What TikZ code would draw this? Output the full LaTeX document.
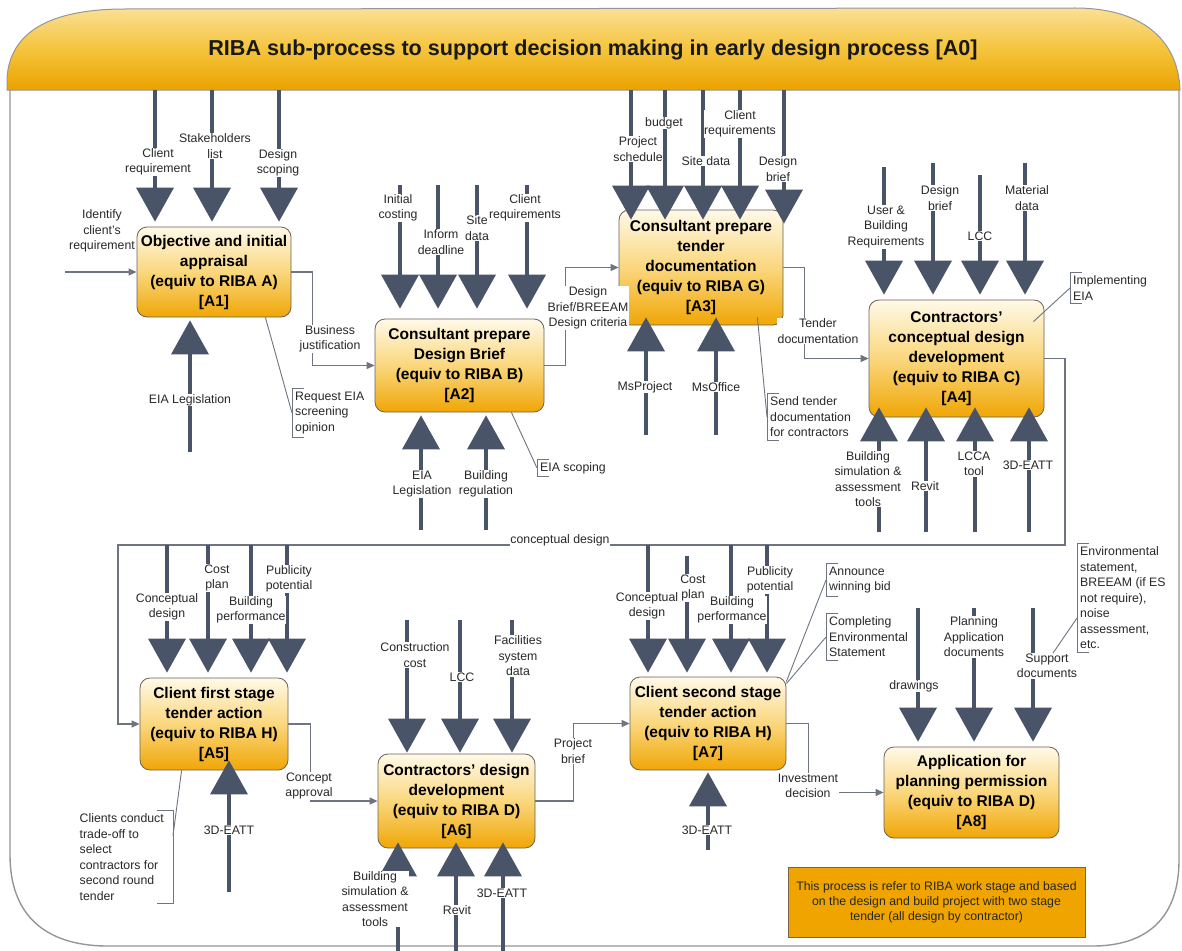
\documentclass[tikz,border=0pt]{standalone}
\usepackage{fontspec}
\setmainfont{Liberation Sans}
\usetikzlibrary{arrows.meta,calc}

\definecolor{slate}{RGB}{74,84,104}
\definecolor{wire}{RGB}{110,116,128}
\definecolor{boxtop}{RGB}{255,249,232}
\definecolor{boxmid}{RGB}{250,215,125}
\definecolor{boxbot}{RGB}{240,166,6}
\definecolor{boxedge}{RGB}{105,98,88}
\definecolor{bantop}{RGB}{250,224,150}
\definecolor{banmid}{RGB}{245,196,60}
\definecolor{banbot}{RGB}{235,162,0}
\definecolor{framegray}{RGB}{150,150,150}
\definecolor{notefill}{RGB}{240,164,0}
\definecolor{noteedge}{RGB}{120,100,70}
\definecolor{ink}{RGB}{40,40,40}

% square bracket on the left side of a callout text node
\newcommand{\calloutbracket}[1]{%
  \draw[brk] ($(#1.north west)+(12,0)$) -- (#1.north west) -- (#1.south west) -- ($(#1.south west)+(12,0)$);}

\tikzset{
  proc/.style={draw=boxedge, line width=0.8pt, rounded corners=10pt,
    top color=boxtop, bottom color=boxbot, middle color=boxmid,
    font=\bfseries\fontsize{15.5}{20}\selectfont, align=center, inner sep=0pt, text=black},
  lbl/.style={fill=white, inner sep=0.6pt, align=center, font=\fontsize{12.3}{15.5}\selectfont, text=ink},
  remark/.style={inner sep=3pt, align=left, anchor=west, font=\fontsize{12.3}{15.5}\selectfont, text=ink},
  feed/.style={draw=slate, line width=4.2pt, -{Triangle[width=38pt,length=34pt,line width=0pt]}},
  flow/.style={draw=wire, line width=1.1pt, -{Triangle[width=7pt,length=8pt]}},
  lead/.style={draw=wire, line width=0.9pt},
  brk/.style={draw=wire, line width=1pt},
}

\begin{document}
\begin{tikzpicture}[x=1pt,y=-1pt]
\useasboundingbox (0,0) rectangle (1182,950);
\fill[white] (0,0) rectangle (1182,950);

% outer frame
\draw[framegray, line width=1.4pt] (10,88) -- (10,855) .. controls (10,915) and (45,945) .. (105,946) -- (1095,946) .. controls (1150,945) and (1179,915) .. (1179,860) -- (1179,88);
% title banner
\path[draw=framegray, line width=1pt, top color=bantop, bottom color=banbot, middle color=banmid]
  (7,90) -- (7,78) .. controls (10,32) and (50,9) .. (125,9) -- (1075,8) .. controls (1140,8) and (1178,38) .. (1180,90) -- cycle;
\node[font=\bfseries\fontsize{21.6}{25}\selectfont, text=black!90] (title) at (593,50)
  {RIBA sub-process to support decision making in early design process [A0]};

% activity boxes
\node[proc, minimum width=154, minimum height=90] (A1) at (214,272) {Objective and initial\\appraisal\\(equiv to RIBA A)\\{[A1]}};
\node[proc, minimum width=169, minimum height=93] (A2) at (459.5,365.5) {Consultant prepare\\Design Brief\\(equiv to RIBA B)\\{[A2]}};
\node[proc, minimum width=164, minimum height=115] (A3) at (701,267.5) {Consultant prepare\\tender\\documentation\\(equiv to RIBA G)\\{[A3]}};
\node[proc, minimum width=175, minimum height=117] (A4) at (956.5,358.5) {Contractors'\\conceptual design\\development\\(equiv to RIBA C)\\{[A4]}};
\node[proc, minimum width=148, minimum height=92] (A5) at (214,724) {Client first stage\\tender action\\(equiv to RIBA H)\\{[A5]}};
\node[proc, minimum width=157, minimum height=94] (A6) at (456.5,801) {Contractors' design\\development\\(equiv to RIBA D)\\{[A6]}};
\node[proc, minimum width=156, minimum height=93] (A7) at (708,723.5) {Client second stage\\tender action\\(equiv to RIBA H)\\{[A7]}};
\node[proc, minimum width=175, minimum height=91] (A8) at (971.5,792.5) {Application for\\planning permission\\(equiv to RIBA D)\\{[A8]}};

% ---------------- A1 ----------------
\foreach \x [count=\i] in {155,212,279} {
  \coordinate (c1\i) at (\x,90);
  \draw[feed, shorten >=5pt] (c1\i) -- (c1\i |- A1.north);}
\node[lbl] (l11) at (158,162) {Client\\requirement};
\node[lbl] (l12) at (215,146) {Stakeholders\\list};
\node[lbl] (l13) at (278,163) {Design\\scoping};
\coordinate (i1) at (65,272);
\draw[flow] (i1) -- (A1.west);
\node[lbl, fill=none] (l14) at (102,231) {Identify\\client's\\requirement};
\coordinate (m11) at (190,452);
\draw[feed, shorten >=3pt] (m11) -- (m11 |- A1.south);
\node[lbl] (l15) at (190,400) {EIA Legislation};
\draw[flow] (A1.east) -- ++(21,0) |- (A2.west);
\node[lbl] (l16) at (330,339) {Business\\justification};
\node[remark] (t1) at (292,413) {Request EIA\\screening\\opinion};
\calloutbracket{t1}
\draw[lead] ($(A1.south east)+(-26,0)$) -- (t1.west);

% ---------------- A2 ----------------
\foreach \x [count=\i] in {400,438,477,527} {
  \coordinate (c2\i) at (\x,185);
  \draw[feed, shorten >=10pt] (c2\i) -- (c2\i |- A2.north);}
\node[lbl] (l21) at (398,208) {Initial\\costing};
\node[lbl] (l23) at (477,228) {Site\\data};
\node[lbl] (l22) at (441,242) {Inform\\deadline};
\node[lbl] (l24) at (525,208) {Client\\requirements};
\foreach \x [count=\i] in {421,486} {
  \coordinate (m2\i) at (\x,530);
  \draw[feed, shorten >=3pt] (m2\i) -- (m2\i |- A2.south);}
\node[lbl] (l25) at (422,484) {EIA\\Legislation};
\node[lbl] (l26) at (486,484) {Building\\regulation};
\draw[flow] (A2.east) -- ++(21,0) |- (A3.west);
\node[lbl] (l27) at (588,308) {Design\\Brief/BREEAM\\Design criteria};
\node[remark] (t2) at (537,468) {EIA scoping};
\calloutbracket{t2}
\draw[lead] ($(A2.south east)+(-33,0)$) -- (t2.west);

% ---------------- A3 ----------------
\foreach \x/\s [count=\i] in {631/-10,665/-10,703/-10,740/-10,784/-14} {
  \coordinate (c3\i) at (\x,90);
  \draw[feed, shorten >=\s pt] (c3\i) -- (c3\i |- A3.north);}
\node[lbl] (l31) at (638,149) {Project\\schedule};
\node[lbl] (l32) at (664,123) {budget};
\node[lbl] (l33) at (706,161) {Site data};
\node[lbl] (l34) at (740,124) {Client\\requirements};
\node[lbl] (l35) at (778,169) {Design\\brief};
\foreach \x [count=\i] in {646,716} {
  \coordinate (m3\i) at (\x,435);
  \draw[feed, shorten >=-8pt] (m3\i) -- (m3\i |- A3.south);}
\node[lbl] (l36) at (645,387) {MsProject};
\node[lbl] (l37) at (716,387) {MsOffice};
\draw[flow] (A3.east) -- ++(21,0) |- (A4.west);
\node[lbl] (l38) at (818,331) {Tender\\documentation};
\node[remark] (t3) at (767,417) {Send tender\\documentation\\for contractors};
\calloutbracket{t3}
\draw[lead] ($(A3.south east)+(-26,-8)$) -- (t3.west);

% ---------------- A4 ----------------
\foreach \x/\y [count=\i] in {884/167,933/163,980/175,1025/163} {
  \coordinate (c4\i) at (\x,\y);
  \draw[feed, shorten >=5pt] (c4\i) -- (c4\i |- A4.north);}
\node[lbl] (l41) at (886,227) {User \&\\Building\\Requirements};
\node[lbl] (l42) at (940,198) {Design\\brief};
\node[lbl] (l43) at (980,236) {LCC};
\node[lbl] (l44) at (1027,198) {Material\\data};
\foreach \x [count=\i] in {879,926,975,1029} {
  \coordinate (m4\i) at (\x,532);
  \draw[feed, shorten >=-10pt] (m4\i) -- (m4\i |- A4.south);}
\node[lbl] (l45) at (868,479) {Building\\simulation \&\\assessment\\tools};
\node[lbl] (l46) at (925,486) {Revit};
\node[lbl] (l47) at (974,464) {LCCA\\tool};
\node[lbl] (l48) at (1028,465) {3D-EATT};
\node[remark] (t4) at (1070,288) {Implementing\\EIA};
\calloutbracket{t4}
\draw[lead] ($(A4.north east)+(-11,22)$) -- (t4.west);
\coordinate (fbR) at (1065,545);
\coordinate (fbL) at (118,545);
\draw[flow] (A4.east) -| (fbR) -- (fbL) |- (A5.west);
\node[lbl] (l49) at (560,540) {conceptual design};

% ---------------- A5 ----------------
\foreach \x [count=\i] in {167,208,251,287} {
  \coordinate (c5\i) at (\x,545);
  \draw[feed, shorten >=5pt] (c5\i) -- (c5\i |- A5.north);}
\node[lbl] (l53) at (251,610) {Building\\performance};
\node[lbl] (l51) at (167,607) {Conceptual\\design};
\node[lbl] (l52) at (217,578) {Cost\\plan};
\node[lbl] (l54) at (289,579) {Publicity\\potential};
\coordinate (m51) at (229,892);
\draw[feed, shorten >=-10pt] (m51) -- (m51 |- A5.south);
\node[lbl] (l55) at (229,830) {3D-EATT};
\draw[flow] (A5.east) -- ++(22,0) |- (A6.west);
\node[lbl] (l56) at (309,786) {Concept\\approval};
\node[remark, anchor=east] (t5) at (167,857) {Clients conduct\\trade-off to\\select\\contractors for\\second round\\tender};
\draw[brk] ($(t5.north east)+(-10,0)$) -- ($(t5.north east)+(6,0)$) -- ($(t5.south east)+(6,0)$) -- ($(t5.south east)+(-10,0)$);
\draw[lead] ($(A5.south west)+(42,0)$) -- ($(t5.north east)+(6,25)$);

% ---------------- A6 ----------------
\foreach \x [count=\i] in {407,460,512} {
  \coordinate (c6\i) at (\x,620);
  \draw[feed, shorten >=1pt] (c6\i) -- (c6\i |- A6.north);}
\node[lbl] (l61) at (415,655) {Construction\\cost};
\node[lbl] (l62) at (462,677) {LCC};
\node[lbl] (l63) at (518,656) {Facilities\\system\\data};
\foreach \x [count=\i] in {398,456,503} {
  \coordinate (m6\i) at (\x,952);
  \draw[feed, shorten >=-6pt] (m6\i) -- (m6\i |- A6.south);}
\node[lbl] (l64) at (375,899) {Building\\simulation \&\\assessment\\tools};
\node[lbl] (l65) at (457,910) {Revit};
\node[lbl] (l66) at (502,893) {3D-EATT};
\draw[flow] (A6.east) -- ++(38,0) |- (A7.west);
\node[lbl] (l67) at (573,751) {Project\\brief};

% ---------------- A7 ----------------
\foreach \x/\y [count=\i] in {648/545,687/556,731/545,767/545} {
  \coordinate (c7\i) at (\x,\y);
  \draw[feed, shorten >=4pt] (c7\i) -- (c7\i |- A7.north);}
\node[lbl] (l73) at (732,610) {Building\\performance};
\node[lbl] (l71) at (647,606) {Conceptual\\design};
\node[lbl] (l72) at (693,588) {Cost\\plan};
\node[lbl] (l74) at (770,580) {Publicity\\potential};
\coordinate (m71) at (708,850);
\draw[feed, shorten >=2pt] (m71) -- (m71 |- A7.south);
\node[lbl] (l75) at (707,830) {3D-EATT};
\draw[flow] (A7.east) -- ++(22,0) |- (A8.west);
\node[lbl] (l76) at (808,786) {Investment\\decision};
\node[remark] (t6) at (826,580) {Announce\\winning bid};
\node[remark] (t7) at (826,637) {Completing\\Environmental\\Statement};
\calloutbracket{t6}
\calloutbracket{t7}
\draw[lead] ($(A7.north east)+(0,5)$) -- (t6.west);
\draw[lead] ($(A7.north east)+(0,7)$) -- (t7.west);

% ---------------- A8 ----------------
\foreach \x [count=\i] in {918,974,1033} {
  \coordinate (c8\i) at (\x,608);
  \draw[feed, shorten >=5pt] (c8\i) -- (c8\i |- A8.north);}
\node[lbl] (l81) at (914,686) {drawings};
\node[lbl] (l82) at (974,637) {Planning\\Application\\documents};
\node[lbl] (l83) at (1047,666) {Support\\documents};
\node[remark] (t8) at (1077,598) {Environmental\\statement,\\BREEAM (if ES\\not require),\\noise\\assessment,\\etc.};
\calloutbracket{t8}
\draw[lead] ($(l83.north)+(6,0)$) -- ($(t8.west)+(0,20)$);

% explanatory note
\node[draw=noteedge, line width=0.9pt, fill=notefill, minimum width=297, minimum height=70,
  align=center, font=\fontsize{12.3}{15}\selectfont, text=black!85] (note) at (936.5,902)
  {This process is refer to RIBA work stage and based\\on the design and build project with two stage\\tender (all design by contractor)};
\end{tikzpicture}
\end{document}
